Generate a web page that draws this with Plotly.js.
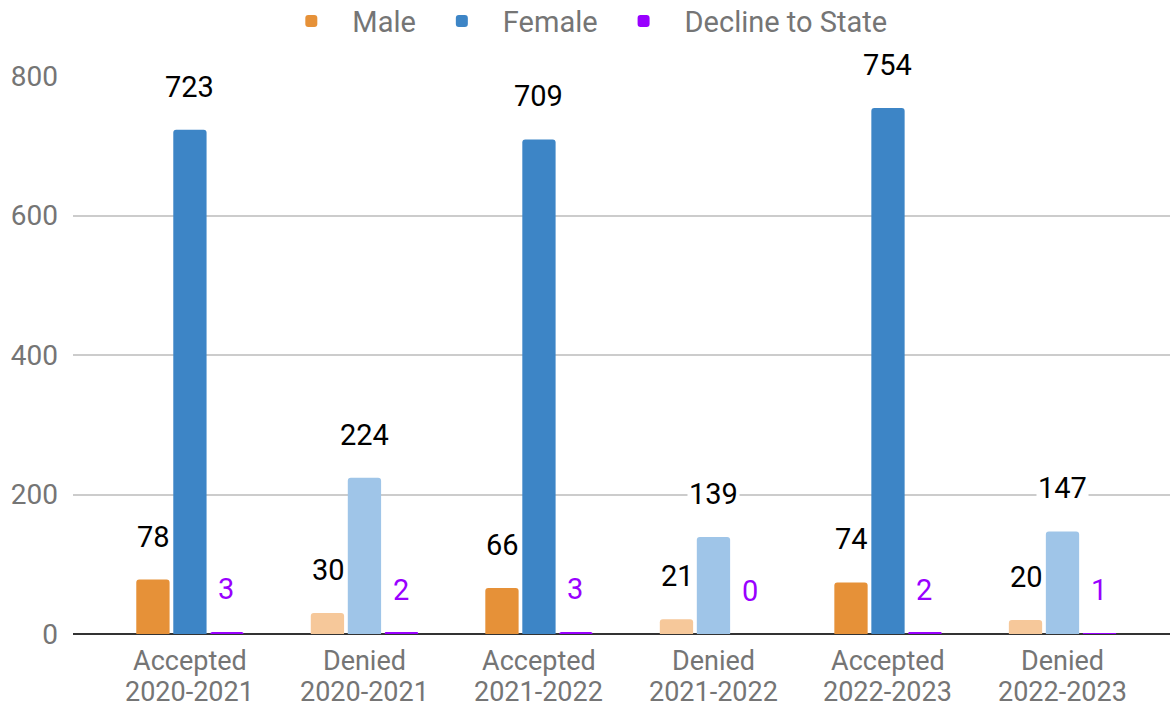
<!DOCTYPE html>
<html>
<head>
<meta charset="utf-8">
<script src="https://cdn.plot.ly/plotly-3.0.1.min.js"></script>
<style>html,body{margin:0;padding:0;background:#fff;}#chart{width:1172px;height:709px;}</style>
</head>
<body>
<div id="chart"></div>
<script>
const statusLabels = ["Accepted", "Denied", "Accepted", "Denied", "Accepted", "Denied"];
const yearLabels = ["2020-2021", "2020-2021", "2021-2022", "2021-2022", "2022-2023", "2022-2023"];
const seriesNames = ["Male", "Female", "Decline to State"];
const maleValues = [78, 30, 66, 21, 74, 20];
const femaleValues = [723, 224, 709, 139, 754, 147];
const declineValues = [3, 2, 3, 0, 2, 1];
const yTicks = [0, 200, 400, 600, 800];

const maleColors = ["#e69138", "#f6c89a", "#e69138", "#f6c89a", "#e69138", "#f6c89a"];
const femaleColors = ["#3d85c6", "#9fc5e8", "#3d85c6", "#9fc5e8", "#3d85c6", "#9fc5e8"];
const declineColor = "#9900ff";

const xIdx = statusLabels.map((c, i) => i);
const series = [maleValues, femaleValues, declineValues];
const colors = [maleColors, femaleColors, declineColor];

const traces = series.map((vals, k) => ({
  type: "bar",
  name: seriesNames[k],
  x: xIdx,
  y: vals,
  marker: {color: colors[k]},
  customdata: statusLabels.map((s, i) => s + " " + yearLabels[i]),
  hovertemplate: "%{customdata}<br>" + seriesNames[k] + ": %{y}<extra></extra>"
}));

const slot = 36.3;
const annotations = [];
series.forEach((vals, k) => {
  vals.forEach((v, i) => {
    annotations.push({
      x: i, y: v, xref: "x", yref: "y",
      text: String(v),
      showarrow: false,
      xshift: (k - 1) * slot,
      yshift: 43,
      yanchor: "middle",
      bgcolor: "#ffffff",
      borderpad: 1,
      font: {family: "Roboto, sans-serif", size: 29, color: k === 2 ? declineColor : "#000000"}
    });
  });
});
yearLabels.forEach((t, i) => {
  annotations.push({
    x: i, y: 0, xref: "x", yref: "y",
    text: t, showarrow: false,
    yanchor: "middle", yshift: -58,
    borderpad: 0,
    font: {family: "Roboto, sans-serif", size: 27, color: "#757575"}
  });
});

const layout = {
  width: 1172, height: 709,
  margin: {l: 73, r: 2, t: 76, b: 75},
  paper_bgcolor: "#ffffff", plot_bgcolor: "#ffffff",
  font: {family: "Roboto, sans-serif", size: 28, color: "#757575"},
  barmode: "group",
  bargap: 0.364,
  bargroupgap: 0.1,
  barcornerradius: 3,
  showlegend: true,
  legend: {
    orientation: "h", xref: "container", yref: "container",
    x: 0.496, xanchor: "center", y: 0.97, yanchor: "middle",
    font: {size: 29, color: "#757575"},
    itemwidth: 72
  },
  xaxis: {
    range: [-0.67, 5.616],
    tickmode: "array", tickvals: xIdx, ticktext: statusLabels,
    showgrid: false, zeroline: false, showline: false,
    ticklabelstandoff: 8,
    tickfont: {size: 27, color: "#757575"}
  },
  yaxis: {
    range: [0, 800],
    tickmode: "array", tickvals: yTicks, ticktext: yTicks.map(String),
    showgrid: true, gridcolor: "#cccccc", gridwidth: 2,
    zeroline: true, zerolinecolor: "#333333", zerolinewidth: 2,
    showline: false,
    ticklabelstandoff: 14,
    tickfont: {size: 28, color: "#757575"}
  },
  annotations: annotations
};

Plotly.newPlot("chart", traces, layout, {displayModeBar: false});
</script>
</body>
</html>
